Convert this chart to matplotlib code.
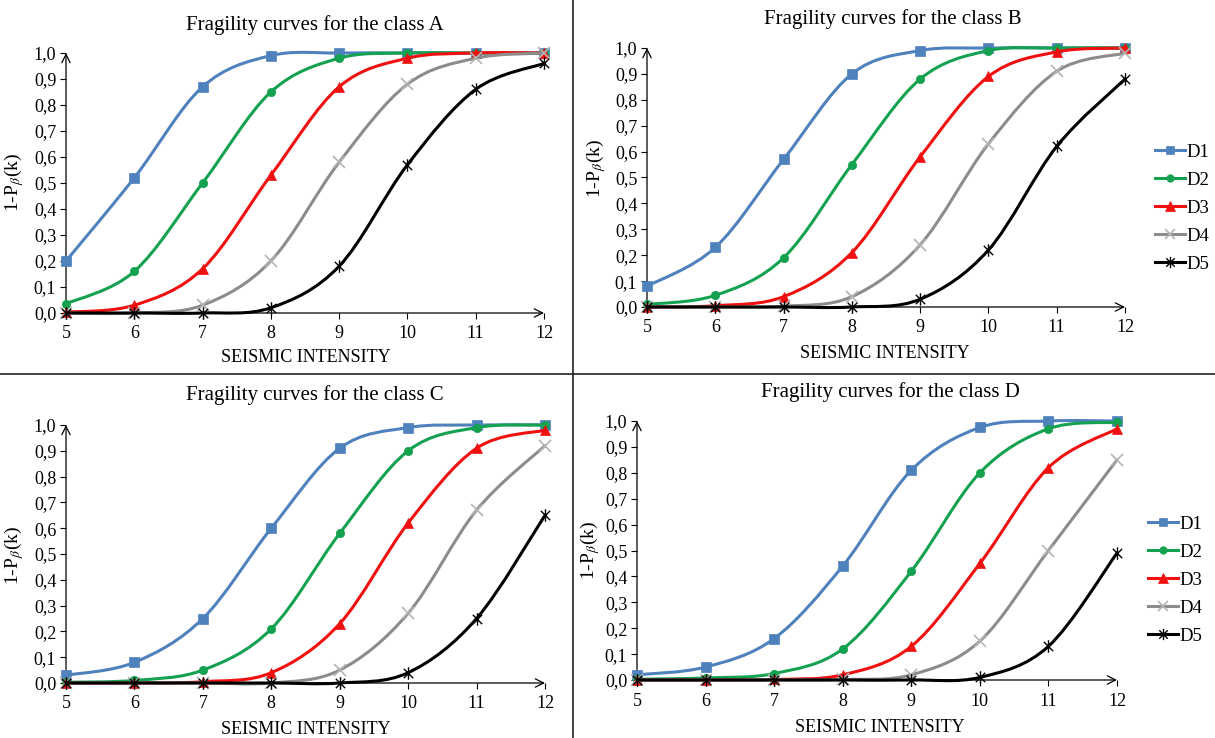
import numpy as np
import matplotlib
matplotlib.use("Agg")
import matplotlib.pyplot as plt
from matplotlib.path import Path
from matplotlib.patches import PathPatch
from matplotlib.lines import Line2D

plt.rcParams['font.family'] = ['Liberation Serif', 'DejaVu Serif']
plt.rcParams['mathtext.fontset'] = 'stix'

# ---------------- data ----------------
intensity = [5, 6, 7, 8, 9, 10, 11, 12]
damage_states = ["D1", "D2", "D3", "D4", "D5"]
y_ticks = [0.0, 0.1, 0.2, 0.3, 0.4, 0.5, 0.6, 0.7, 0.8, 0.9, 1.0]
y_tick_labels = ["0,0", "0,1", "0,2", "0,3", "0,4", "0,5",
                 "0,6", "0,7", "0,8", "0,9", "1,0"]
class_names = ["A", "B", "C", "D"]

class_a_d1 = [0.20, 0.52, 0.87, 0.99, 1.00, 1.00, 1.00, 1.00]
class_a_d2 = [0.035, 0.16, 0.50, 0.85, 0.98, 1.00, 1.00, 1.00]
class_a_d3 = [0.003, 0.03, 0.17, 0.53, 0.87, 0.98, 1.00, 1.00]
class_a_d4 = [0.0, 0.0, 0.03, 0.20, 0.58, 0.88, 0.98, 1.00]
class_a_d5 = [0.0, 0.0, 0.0, 0.02, 0.18, 0.57, 0.86, 0.96]

class_b_d1 = [0.08, 0.23, 0.57, 0.90, 0.99, 1.00, 1.00, 1.00]
class_b_d2 = [0.01, 0.045, 0.19, 0.55, 0.88, 0.99, 1.00, 1.00]
class_b_d3 = [0.0, 0.005, 0.04, 0.21, 0.58, 0.89, 0.985, 1.00]
class_b_d4 = [0.0, 0.0, 0.003, 0.04, 0.24, 0.63, 0.91, 0.98]
class_b_d5 = [0.0, 0.0, 0.0, 0.0, 0.03, 0.22, 0.62, 0.88]

class_c_d1 = [0.03, 0.08, 0.25, 0.60, 0.91, 0.99, 1.00, 1.00]
class_c_d2 = [0.003, 0.01, 0.05, 0.21, 0.58, 0.90, 0.99, 1.00]
class_c_d3 = [0.0, 0.0, 0.005, 0.04, 0.23, 0.62, 0.91, 0.98]
class_c_d4 = [0.0, 0.0, 0.0, 0.0, 0.05, 0.27, 0.67, 0.92]
class_c_d5 = [0.0, 0.0, 0.0, 0.0, 0.0, 0.04, 0.25, 0.65]

class_d_d1 = [0.02, 0.05, 0.16, 0.44, 0.81, 0.975, 1.00, 1.00]
class_d_d2 = [0.003, 0.008, 0.025, 0.12, 0.42, 0.80, 0.97, 0.995]
class_d_d3 = [0.0, 0.0, 0.002, 0.02, 0.13, 0.45, 0.82, 0.97]
class_d_d4 = [0.0, 0.0, 0.0, 0.002, 0.02, 0.15, 0.50, 0.85]
class_d_d5 = [0.0, 0.0, 0.0, 0.0, 0.0, 0.01, 0.13, 0.49]

curves = {
    "A": [class_a_d1, class_a_d2, class_a_d3, class_a_d4, class_a_d5],
    "B": [class_b_d1, class_b_d2, class_b_d3, class_b_d4, class_b_d5],
    "C": [class_c_d1, class_c_d2, class_c_d3, class_c_d4, class_c_d5],
    "D": [class_d_d1, class_d_d2, class_d_d3, class_d_d4, class_d_d5],
}

# ---------------- styles ----------------
W, H = 1215, 738

# star marker: an X crossed by a vertical bar
star_path = Path(
    [(-0.75, -0.75), (0.75, 0.75), (-0.75, 0.75), (0.75, -0.75), (0, -1), (0, 1)],
    [Path.MOVETO, Path.LINETO, Path.MOVETO, Path.LINETO, Path.MOVETO, Path.LINETO],
)

styles = [
    dict(color="#4F81BD", marker="s", ms=6.5, mfc="#4F81BD", mec="#4F81BD", mew=0.5),
    dict(color="#14A150", marker="o", ms=6, mfc="#14A150", mec="#14A150", mew=0.5),
    dict(color="#F01010", marker="^", ms=7.5, mfc="#F01010", mec="#F01010", mew=0.5),
    dict(color="#8C8C8C", marker="x", ms=8, mfc="none", mec="#B4B4B4", mew=1.2),
    dict(color="#000000", marker=star_path, ms=9, mfc="none", mec="#000000", mew=1.0),
]

# panel boxes in pixels: x at intensity 5, x at 12, y at 1.0, y at 0.0
panel_px = {
    "A": (66, 544, 53, 313),
    "B": (647, 1125, 48, 307),
    "C": (66, 545, 425, 683),
    "D": (637, 1117, 421, 680),
}
title_px = {"A": (315, 25), "B": (893, 19), "C": (315, 395), "D": (890, 392)}
xlabel_px = {"A": (306, 357), "B": (885, 353), "C": (306, 729), "D": (880, 727)}
ylabel_px = {"A": (14, 182), "B": (596, 168), "C": (14, 555), "D": (590, 550)}
legend_px = {"B": (1155, 208), "D": (1148, 580)}


def smooth_path(x, y):
    """Cubic Bezier path through the points (Catmull-Rom style tangents)."""
    pts = np.column_stack([x, y]).astype(float)
    n = len(pts)
    verts = [pts[0]]
    codes = [Path.MOVETO]
    for i in range(n - 1):
        p0 = pts[i - 1] if i > 0 else pts[i]
        p1 = pts[i]
        p2 = pts[i + 1]
        p3 = pts[i + 2] if i + 2 < n else pts[i + 1]
        c1 = p1 + (p2 - p0) / 6.0
        c2 = p2 - (p3 - p1) / 6.0
        verts += [c1, c2, p2]
        codes += [Path.CURVE4] * 3
    return Path(verts, codes)


fig = plt.figure(figsize=(W / 100, H / 100), dpi=100)
fig.patch.set_facecolor("white")

for name in class_names:
    x0, x1, ytop, ybot = panel_px[name]
    ax = fig.add_axes([x0 / W, 1 - ybot / H, (x1 - x0) / W, (ybot - ytop) / H])
    ax.set_xlim(5, 12)
    ax.set_ylim(0, 1)
    for s in ax.spines.values():
        s.set_visible(False)
    ax.set_xticks(intensity)
    ax.set_xticklabels([str(v) for v in intensity])
    ax.set_yticks(y_ticks)
    ax.set_yticklabels(y_tick_labels)
    ax.tick_params(axis="both", direction="out", length=4, width=0.8,
                   labelsize=13, colors="black")
    ax.tick_params(axis="y", pad=3)
    ax.tick_params(axis="x", pad=5)

    # axes with open arrowheads
    arrow = dict(arrowstyle="->,head_length=0.6,head_width=0.3", lw=0.9,
                 color="black", shrinkA=0, shrinkB=0)
    ax.annotate("", xy=(12, 0), xytext=(5, 0), arrowprops=arrow,
                annotation_clip=False, zorder=1)
    ax.annotate("", xy=(5, 1.0), xytext=(5, 0), arrowprops=arrow,
                annotation_clip=False, zorder=1)

    for k, (vals, st) in enumerate(zip(curves[name], styles)):
        patch = PathPatch(smooth_path(intensity, vals), fill=False,
                          edgecolor=st["color"], lw=2.2, capstyle="round",
                          joinstyle="round", clip_on=False, zorder=2 + k)
        ax.add_patch(patch)
        ax.plot(intensity, vals, linestyle="none", marker=st["marker"],
                ms=st["ms"], mfc=st["mfc"], mec=st["mec"], mew=st["mew"],
                clip_on=False, zorder=2.5 + k)

    tx, ty = title_px[name]
    fig.text(tx / W, 1 - ty / H, f"Fragility curves for the class {name}",
             ha="center", va="center", fontsize=15)
    lx, ly = xlabel_px[name]
    fig.text(lx / W, 1 - ly / H, "SEISMIC INTENSITY",
             ha="center", va="center", fontsize=13)
    yx, yy = ylabel_px[name]
    fig.text(yx / W, 1 - yy / H, r"1-P$_{\beta}$(k)", rotation=90,
             ha="center", va="center", fontsize=14)

    if name in legend_px:
        handles = [Line2D([], [], color=st["color"], lw=2.2, marker=st["marker"],
                          ms=st["ms"] * 0.9, mfc=st["mfc"], mec=st["mec"],
                          mew=st["mew"])
                   for st in styles]
        gx, gy = legend_px[name]
        ax.legend(handles, damage_states, loc="center left",
                  bbox_to_anchor=(gx / W, 1 - gy / H),
                  bbox_transform=fig.transFigure, frameon=False,
                  fontsize=13.5, handlelength=1.6, handletextpad=0.1,
                  labelspacing=0.58, borderpad=0, borderaxespad=0)

# panel dividers
fig.add_artist(Line2D([573 / W, 573 / W], [0, 1], transform=fig.transFigure,
                      color="#222222", lw=1.2))
fig.add_artist(Line2D([0, 1], [1 - 374 / H, 1 - 374 / H],
                      transform=fig.transFigure, color="#222222", lw=1.2))

fig.savefig("out.png", dpi=100, facecolor="white")
